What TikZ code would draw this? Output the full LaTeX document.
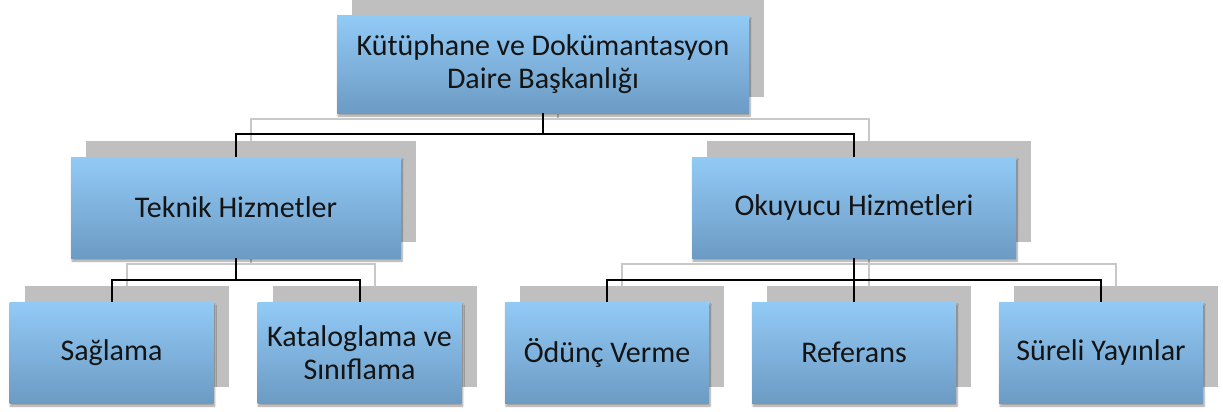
\documentclass[tikz,border=0pt]{standalone}
\usepackage{fontspec}
\setmainfont{Carlito}
\usetikzlibrary{shadows.blur}
\pgfdeclarelayer{lines}
\pgfdeclarelayer{shades}
\pgfsetlayers{lines,shades,main}
\definecolor{boxtop}{RGB}{146,202,246}
\definecolor{boxbot}{RGB}{108,155,196}
\definecolor{shadegray}{RGB}{191,191,191}
\definecolor{linegray}{RGB}{200,200,200}
\definecolor{txt}{RGB}{20,20,20}
\begin{document}
\begin{tikzpicture}[x=1pt,y=-1pt,
  bluebox/.style={rectangle, inner sep=0pt, top color=boxtop, bottom color=boxbot,
    align=center, font=\fontsize{30}{33}\selectfont, text=txt,
    blur shadow={shadow xshift=1pt, shadow yshift=-3pt, shadow blur steps=6, shadow opacity=40}},
  shadebox/.style={rectangle, inner sep=0pt, fill=shadegray},
  wide/.style={minimum width=412pt, minimum height=97pt},
  mid/.style={minimum width=328pt, minimum height=101pt},
  small/.style={minimum width=204pt, minimum height=101pt},
  blackline/.style={draw=black, line width=2pt},
  greyline/.style={draw=linegray, line width=2pt}
]
\useasboundingbox (0,0) rectangle (1223,412);
\coordinate (busA) at (0,134);
\coordinate (busB) at (0,280);
\coordinate (busAs) at (0,119);
\coordinate (busBs) at (0,264);

% main boxes
\node[bluebox, wide] (top) at (543,64.5) {Kütüphane ve Dokümantasyon\\Daire Başkanlığı};
\node[bluebox, mid, minimum width=330pt] (tek) at (236,207.5) {Teknik Hizmetler};
\node[bluebox, mid, minimum width=324pt] (oku) at (854,207.5) {Okuyucu Hizmetleri};
\node[bluebox, small] (sag) at (111.5,352.5) {Sağlama};
\node[bluebox, small] (kat) at (359.5,352.5) {Kataloglama ve\\Sınıflama};
\node[bluebox, small] (odu) at (607,352.5) {Ödünç Verme};
\node[bluebox, small] (ref) at (854,352.5) {Referans};
\node[bluebox, small] (sur) at (1101,352.5) {Süreli Yayınlar};

% shadow boxes
\begin{pgfonlayer}{shades}
\node[shadebox, wide] (topS) at (558,48.5) {};
\node[shadebox, mid, minimum width=330pt] (tekS) at (251,191.5) {};
\node[shadebox, mid, minimum width=324pt] (okuS) at (869,191.5) {};
\node[shadebox, small] (sagS) at (126.5,336.5) {};
\node[shadebox, small] (katS) at (374.5,336.5) {};
\node[shadebox, small] (oduS) at (622,336.5) {};
\node[shadebox, small] (refS) at (869,336.5) {};
\node[shadebox, small] (surS) at (1116,336.5) {};
\end{pgfonlayer}

% grey shadow connectors
\begin{pgfonlayer}{lines}
\draw[greyline] (topS.south) -- (topS.south |- busAs) -| (tekS.north);
\draw[greyline] (topS.south |- busAs) -| (okuS.north);
\draw[greyline] (tekS.south) -- (tekS.south |- busBs) -| (sagS.north);
\draw[greyline] (tekS.south |- busBs) -| (katS.north);
\draw[greyline] (okuS.south) -- (refS.north);
\draw[greyline] (okuS.south |- busBs) -| (oduS.north);
\draw[greyline] (okuS.south |- busBs) -| (surS.north);
\end{pgfonlayer}

% black connectors
\draw[blackline] (top.south) -- (top.south |- busA) -| (tek.north);
\draw[blackline] (top.south |- busA) -| (oku.north);
\draw[blackline] (tek.south) -- (tek.south |- busB) -| (sag.north);
\draw[blackline] (tek.south |- busB) -| (kat.north);
\draw[blackline] (oku.south) -- (ref.north);
\draw[blackline] (oku.south |- busB) -| (odu.north);
\draw[blackline] (oku.south |- busB) -| (sur.north);
\end{tikzpicture}
\end{document}
